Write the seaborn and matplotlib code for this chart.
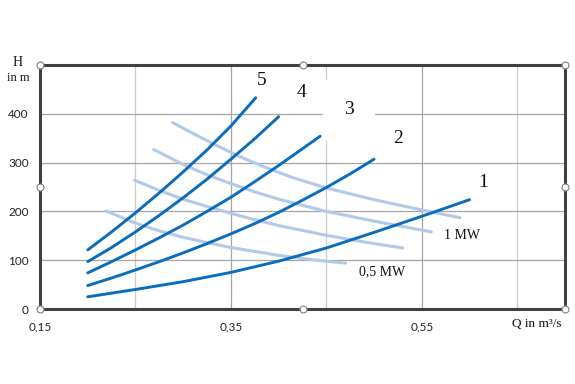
import numpy as np
import pandas as pd
import seaborn as sns
import matplotlib.pyplot as plt
import matplotlib.ticker as ticker

# --- pump curves (dark), Q in m3/s, H in m ---
q1 = [0.20, 0.25, 0.30, 0.35, 0.40, 0.45, 0.50, 0.55, 0.60]
h1 = [25, 40, 56, 75, 98, 125, 157, 190, 224]
q2 = [0.20, 0.225, 0.25, 0.275, 0.30, 0.325, 0.35, 0.375, 0.40, 0.425, 0.45, 0.475, 0.50]
h2 = [48, 63.5, 80, 97, 115, 134, 154, 175, 198, 223, 249, 277, 307]
q3 = [0.20, 0.225, 0.25, 0.275, 0.30, 0.325, 0.35, 0.375, 0.40, 0.4435]
h3 = [74, 97, 121, 146, 172, 200, 229, 261, 294, 354]
q4 = [0.20, 0.225, 0.25, 0.275, 0.30, 0.325, 0.35, 0.375, 0.40]
h4 = [97, 126, 158, 192, 228, 266, 307, 349, 394]
q5 = [0.20, 0.225, 0.25, 0.275, 0.30, 0.325, 0.35, 0.376]
h5 = [121, 158, 197, 238, 281, 326, 375, 433]

# --- power curves (light) ---
p1_q = [0.219, 0.25, 0.275, 0.30, 0.325, 0.35, 0.375, 0.40, 0.435, 0.47]
p1_h = [201, 176, 160, 147, 136, 126, 118, 110, 101, 94]
p2_q = [0.249, 0.275, 0.30, 0.325, 0.35, 0.375, 0.40, 0.45, 0.50, 0.53]
p2_h = [264, 243, 225, 210, 196, 183, 171, 151, 134, 125]
p3_q = [0.269, 0.30, 0.325, 0.35, 0.375, 0.40, 0.45, 0.50, 0.56]
p3_h = [327, 296, 275, 257, 240, 225, 200, 180, 158]
p4_q = [0.289, 0.31, 0.33, 0.355, 0.38, 0.415, 0.45, 0.50, 0.55, 0.59]
p4_h = [382, 360, 340, 316, 295, 269, 248, 224, 203, 187]

pump_curves = [(q1, h1), (q2, h2), (q3, h3), (q4, h4), (q5, h5)]
power_curves = [(p1_q, p1_h), (p2_q, p2_h), (p3_q, p3_h), (p4_q, p4_h)]

curve_labels = ["1", "2", "3", "4", "5"]
label_pos = [(0.614, 260), (0.525, 350), (0.4736, 408), (0.424, 443), (0.3825, 469)]

x_ticks = [0.15, 0.35, 0.55]
x_tick_labels = ["0,15", "0,35", "0,55"]
y_ticks = [0, 100, 200, 300, 400]

DARK = "#0a6cbd"
LIGHT = "#b3cae6"
FRAME = "#404040"

sns.set_theme(style="white")

fig = plt.figure(figsize=(5.75, 3.84), dpi=100)
ax = fig.add_axes([40 / 575, 1 - 309 / 384, 525 / 575, 244 / 384])

for q, h in power_curves:
    sns.lineplot(x=q, y=h, ax=ax, color=LIGHT, linewidth=2.2, sort=False,
                 estimator=None, zorder=3)
for q, h in pump_curves:
    sns.lineplot(x=q, y=h, ax=ax, color=DARK, linewidth=2.1, sort=False,
                 estimator=None, zorder=4)

ax.set_xlim(0.15, 0.70)
ax.set_ylim(0, 500)

# grid
ax.xaxis.set_major_locator(ticker.FixedLocator(x_ticks))
ax.xaxis.set_minor_locator(ticker.FixedLocator([0.25, 0.45, 0.65]))
ax.set_xticklabels(x_tick_labels)
ax.yaxis.set_major_locator(ticker.FixedLocator(y_ticks))
ax.grid(which="major", axis="both", color="#a6a6a6", linewidth=0.9, zorder=0)
ax.grid(which="minor", axis="x", color="#cccccc", linewidth=0.9, zorder=0)
ax.set_axisbelow(True)
ax.tick_params(axis="both", which="both", length=0, labelsize=8.5,
               labelcolor="#222222", pad=9)
ax.tick_params(axis="y", pad=8)
for lab in ax.get_xticklabels() + ax.get_yticklabels():
    lab.set_fontfamily("Lato")
ax.set_xlabel("")
ax.set_ylabel("")

for s in ax.spines.values():
    s.set_color(FRAME)
    s.set_linewidth(2.2)
    s.set_zorder(6)

# curve numbers (white boxes hide the grid behind some of them)
serif = "Liberation Serif"
for lab, (x, y) in zip(curve_labels, label_pos):
    kw = {}
    if lab == "3":
        kw["bbox"] = dict(facecolor="white", edgecolor="none", boxstyle="square,pad=1.1")
    elif lab == "2":
        kw["bbox"] = dict(facecolor="white", edgecolor="none", boxstyle="square,pad=0.6")
    ax.text(x, y, lab, ha="center", va="center", fontsize=14, family=serif,
            color="#111111", zorder=2, **kw)

ax.text(0.592, 150, "1 MW", ha="center", va="center", fontsize=10,
        family=serif, color="#111111")
ax.text(0.508, 76, "0,5 MW", ha="center", va="center", fontsize=10,
        family=serif, color="#111111")

# axis titles
fig.text(18 / 575, 1 - 62 / 384, "H", ha="center", va="center", fontsize=10,
         family=serif, color="#111111")
fig.text(18 / 575, 1 - 78 / 384, "in m", ha="center", va="center", fontsize=9,
         family=serif, color="#111111")
fig.text(537 / 575, 1 - 324 / 384, "Q in m³/s", ha="center", va="center",
         fontsize=9.5, family=serif, color="#111111")

# selection handles on the frame
hx = [0, 0.5, 1, 0, 1, 0, 0.5, 1]
hy = [1, 1, 1, 0.5, 0.5, 0, 0, 0]
ax.plot(hx, hy, linestyle="none", marker="o", markersize=5,
        markerfacecolor="white", markeredgecolor="#808080", markeredgewidth=0.8,
        transform=ax.transAxes, clip_on=False, zorder=10)

fig.savefig("out.png", dpi=100)
